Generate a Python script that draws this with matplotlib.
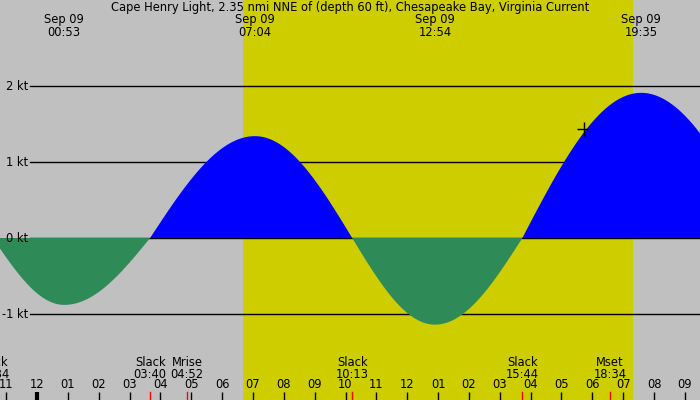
import numpy as np
import matplotlib
matplotlib.use("Agg")
import matplotlib.pyplot as plt
import matplotlib.transforms as mtransforms

# ---- data (hours relative to 00:00 Sep 09) ----
title = "Cape Henry Light, 2.35 nmi NNE of (depth 60 ft), Chesapeake Bay, Virginia Current"
slack_times = [-1 - 26/60, 3 + 40/60, 10 + 13/60, 15 + 44/60, 23.5]
slack_labels = ["22:34", "03:40", "10:13", "15:44", None]
extreme_times = [53/60, 7 + 4/60, 12 + 54/60, 19 + 35/60]
extreme_labels = ["00:53", "07:04", "12:54", "19:35"]
extreme_speeds = [-0.88, 1.34, -1.14, 1.91]
moon_times = [4 + 52/60, 18 + 34/60]
moon_names = ["Mrise", "Mset"]
moon_labels = ["04:52", "18:34"]
sunrise, sunset = 6 + 41/60, 19 + 19/60
now_time, now_speed = 17.73, 1.43
ytick_vals = [2, 1, 0, -1]
hour_ticks = list(range(-1, 22))

W, H = 700, 400
x0_px, px_per_h = 37.0, 30.85
y0_px, px_per_kt = 238.0, 76.0
xmin, xmax = -x0_px / px_per_h, (W - x0_px) / px_per_h
ymax, ymin = y0_px / px_per_kt, -(H - y0_px) / px_per_kt

gray = "#C0C0C0"
yellow = "#CDCD00"
ebb = "#2E8B57"
flood = "#0000FF"

fig = plt.figure(figsize=(7, 4), dpi=100)
ax = fig.add_axes([0, 0, 1, 1])
ax.set_xlim(xmin, xmax)
ax.set_ylim(ymin, ymax)
ax.set_facecolor(gray)
fig.patch.set_facecolor(gray)
for s in ax.spines.values():
    s.set_visible(False)
ax.set_xticks([])
ax.set_yticks([])

ax.axvspan(sunrise, sunset, color=yellow, zorder=0, lw=0)

fs = 8.3

# horizontal kt lines
line_start = 30 / W
for v in ytick_vals:
    ax.axhline(v, xmin=line_start, xmax=1, color="black", lw=1.0, zorder=1)
    ax.text(28 / px_per_h + xmin, v, f"{v} kt", ha="right", va="center",
            fontsize=fs, color="black", zorder=3)

# curve: quarter-sine segments between slack and extreme events
nodes = sorted([(t, 0.0) for t in slack_times] +
               list(zip(extreme_times, extreme_speeds)))
t = np.linspace(xmin, xmax, 3000)
v = np.zeros_like(t)
for (ta, va), (tb, vb) in zip(nodes[:-1], nodes[1:]):
    m = (t >= ta) & (t <= tb)
    s = (t[m] - ta) / (tb - ta)
    if va == 0.0:
        v[m] = vb * np.sin(np.pi / 2 * s)
    else:
        v[m] = va * np.cos(np.pi / 2 * s)
ax.fill_between(t, 0, v, where=v >= 0, color=flood, lw=0, zorder=2, interpolate=True)
ax.fill_between(t, 0, v, where=v <= 0, color=ebb, lw=0, zorder=2, interpolate=True)

ax.plot([now_time], [now_speed], marker="+", color="black", ms=10, mew=1.0, zorder=4)

trans = mtransforms.blended_transform_factory(ax.transData, ax.transAxes)

# title
ax.text(0.5, 1 - 8 / H, title, transform=ax.transAxes, ha="center", va="center", fontsize=fs)

# extremes at top
for et, el in zip(extreme_times, extreme_labels):
    ax.text(et, 1 - 19 / H, "Sep 09", transform=trans, ha="center", va="center", fontsize=fs)
    ax.text(et, 1 - 32 / H, el, transform=trans, ha="center", va="center", fontsize=fs)

# bottom event labels
for st, sl in zip(slack_times, slack_labels):
    if sl is None:
        continue
    ax.text(st, 1 - 362 / H, "Slack", transform=trans, ha="center", va="center", fontsize=fs)
    ax.text(st, 1 - 375 / H, sl, transform=trans, ha="center", va="center", fontsize=fs)
    ax.plot([st, st], [0, 8 / H], transform=trans, color="red", lw=1, zorder=5)
for mt, mn, ml in zip(moon_times, moon_names, moon_labels):
    ax.text(mt, 1 - 362 / H, mn, transform=trans, ha="center", va="center", fontsize=fs)
    ax.text(mt, 1 - 375 / H, ml, transform=trans, ha="center", va="center", fontsize=fs)
    ax.plot([mt, mt], [0, 8 / H], transform=trans, color="red", lw=1, zorder=5)

# hour ticks
for h in hour_ticks:
    hh = h % 12
    lab = f"{12 if hh == 0 else hh:02d}"
    ax.text(h, 1 - 385 / H, lab, transform=trans, ha="center", va="center", fontsize=fs)
    ax.plot([h, h], [0, 8 / H], transform=trans, color="black",
            lw=3 if h % 24 == 0 else 1, zorder=5, solid_capstyle="butt")

fig.savefig("out.png", dpi=100, facecolor=gray)
